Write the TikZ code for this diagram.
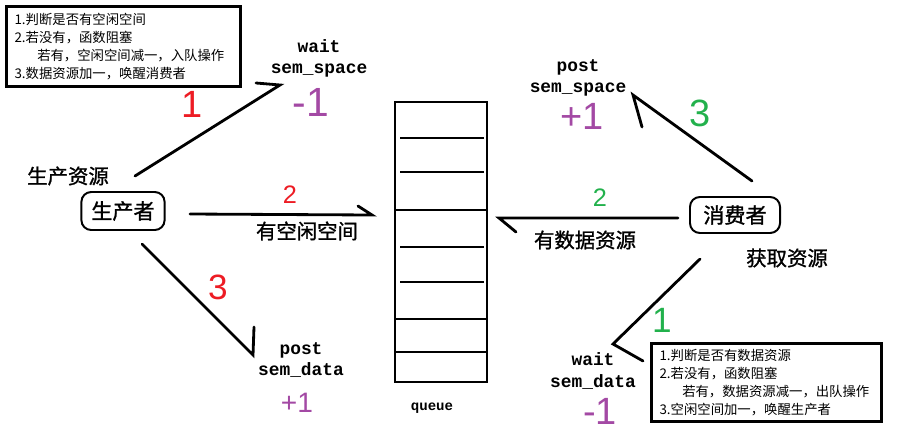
\documentclass[tikz,border=0pt]{standalone}
\usepackage{fontspec}
\setmainfont{Liberation Sans}
\setmonofont{Liberation Mono}
\newfontfamily\cjk{Noto Sans CJK SC}
\newfontfamily\cjkb[FakeBold=1.2]{Noto Sans CJK SC}

\definecolor{paintred}{RGB}{237,28,36}
\definecolor{paintgreen}{RGB}{34,177,76}
\definecolor{paintpurple}{RGB}{163,73,164}

\tikzset{
  conn/.style={line width=2pt, line cap=round, line join=miter},
  actor/.style={draw, line width=1.4pt, rounded corners=7pt, font=\cjkb\fontsize{15}{18}\selectfont},
  infobox/.style={draw, line width=2.2pt, anchor=north west, align=left, inner xsep=4pt,
    font=\cjk\fontsize{9.5}{13}\selectfont},
  cnlabel/.style={font=\cjkb\fontsize{14.5}{17}\selectfont},
  semlabel/.style={font=\ttfamily\bfseries\fontsize{12.7}{15}\selectfont, align=center},
  hand/.style={font=\fontsize{#1}{#1}\selectfont},
}

\begin{document}
\begin{tikzpicture}[x=0.025cm, y=-0.025cm]
    \useasboundingbox (0,0) rectangle (899,436);

    % Info boxes
    \node[infobox, minimum width=5.85cm, minimum height=2cm, text width=5.45cm] (pinfo) at (5,5)
      {1.判断是否有空闲空间\\2.若没有，函数阻塞\\\hspace*{1.7em}若有，空闲空间减一，入队操作\\3.数据资源加一，唤醒消费者};
    \node[infobox, minimum width=5.75cm, minimum height=1.95cm, text width=5.35cm] (cinfo) at (650,342)
      {1.判断是否有数据资源\\2.若没有，函数阻塞\\\hspace*{1.7em}若有，数据资源减一，出队操作\\3.空闲空间加一，唤醒生产者};

    % Producer and consumer
    \node[actor, minimum width=2.08cm, minimum height=0.95cm] (prod) at (123,211) {生产者};
    \node[actor, minimum width=2.25cm, minimum height=0.9cm] (cons) at (735,215) {消费者};
    \node[cnlabel] (pres) at (68,176) {生产资源};
    \node[cnlabel] (cres) at (787,258) {获取资源};

    % Queue
    \node[draw, line width=1.5pt, minimum width=2.3cm, minimum height=7cm] (queue) at (441,242) {};
    \foreach \y in {138,172,247,282}
      \draw[line width=1.3pt] (400,\y) -- (484,\y);
    \foreach \y in {210,319,352}
      \draw[line width=1.3pt] (395,\y) -- (487,\y);
    \node[font=\ttfamily\bfseries\fontsize{10}{12}\selectfont] (qname) at (432,408) {queue};

    % Semaphore labels
    \node[semlabel] (pwait) at (319,58) {wait\\sem\_space};
    \node[semlabel] (cpost) at (578,78) {post\\sem\_space};
    \node[semlabel] (ppost) at (301,360) {post\\sem\_data};
    \node[semlabel] (cwait) at (593,371) {wait\\sem\_data};

    % Arrow ends
    \coordinate (p1s) at (135,176);  \coordinate (p1t) at (280,85);
    \coordinate (p2s) at (190,214);  \coordinate (p2t) at (372,215);
    \coordinate (p3s) at (142,244);  \coordinate (p3t) at (253,355);
    \coordinate (c1s) at (700,259);  \coordinate (c1t) at (613,344);
    \coordinate (c2s) at (678,218);  \coordinate (c2t) at (499,218);
    \coordinate (c3s) at (752,181);  \coordinate (c3t) at (633,95);

    % Producer steps
    \draw[conn] (p1s) -- (p1t) -- ++(-24,-2);
    \draw[conn] (p2s) -- (p2t) -- ++(-14,-9);
    \draw[conn] (p3s) -- (p3t) -- ++(1,-28);
    \node[cnlabel] (pspace) at (307,231) {有空闲空间};

    % Consumer steps
    \draw[conn] (c1s) -- (c1t) -- ++(30,17);
    \draw[conn] (c2s) -- (c2t) -- ++(17,14);
    \draw[conn] (c3s) -- (c3t) -- ++(9,32);
    \node[cnlabel] (cdata) at (585,240) {有数据资源};

    % Step numbers
    \node[hand=27, paintred] (n1) at (192,104) {1};
    \node[hand=18, paintred] (n2) at (290,195) {2};
    \node[hand=25, paintred] (n3) at (218,287) {3};
    \node[hand=25, paintgreen] (m1) at (662,320) {1};
    \node[hand=18, paintgreen] (m2) at (600,198) {2};
    \node[hand=27, paintgreen] (m3) at (700,113) {3};

    % Counter changes
    \node[hand=29, paintpurple] (dspace) at (311,102) {-1};
    \node[hand=27, paintpurple] (ispace) at (582,116) {+1};
    \node[hand=20, paintpurple] (idata) at (297,403) {+1};
    \node[hand=27, paintpurple] (ddata) at (600,411) {-1};
\end{tikzpicture}
\end{document}
